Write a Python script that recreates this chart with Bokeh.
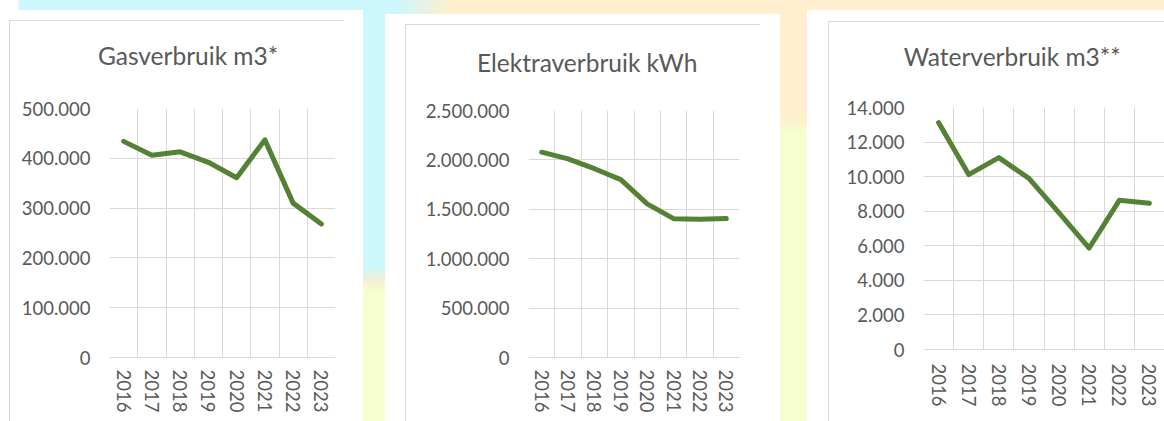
from bokeh.plotting import figure
from bokeh.layouts import row, column
from bokeh.models import Range1d, FixedTicker, Spacer
from bokeh.core.properties import value
from bokeh.embed import file_html
from bokeh.resources import INLINE

# ---- data ----
years = [2016, 2017, 2018, 2019, 2020, 2021, 2022, 2023]
gas_m3 = [434000, 406000, 413000, 392000, 361000, 437000, 310000, 268000]
elektra_kwh = [2078000, 2011000, 1911000, 1800000, 1555000, 1405000, 1400000, 1407000]
water_m3 = [13130, 10120, 11100, 9900, 7900, 5870, 8630, 8460]

titles = ["Gasverbruik m3*", "Elektraverbruik kWh", "Waterverbruik m3**"]
gas_ticks = [0, 100000, 200000, 300000, 400000, 500000]
elektra_ticks = [0, 500000, 1000000, 1500000, 2000000, 2500000]
water_ticks = [0, 2000, 4000, 6000, 8000, 10000, 12000, 14000]

# ---- style ----
GREEN = "#548235"
GRID = "#d9d9d9"
TXT = "#595959"
FONT = "Lato"
CYAN = "#cbf7fd"
PEACH = "#ffefce"
YELLOW = "#f6fecd"
TITLE_H = 80


def nl(v):
    return f"{v:,}".replace(",", ".")


def panel_bg(bx, by, bw, bh):
    return (f"linear-gradient({GRID},{GRID}) {bx}px {by}px / {bw}px 1px no-repeat, "
            f"linear-gradient({GRID},{GRID}) {bx}px {by}px / 1px {bh}px no-repeat, #ffffff")


def make_title(text, width, cx, baseline):
    t = figure(width=width, height=TITLE_H, output_backend="svg",
               toolbar_location=None, tools="", title=None,
               x_axis_type=None, y_axis_type=None, min_border=0,
               frame_align=False,
               x_range=Range1d(0, width), y_range=Range1d(TITLE_H, 0))
    t.border_fill_color = None
    t.background_fill_color = None
    t.outline_line_color = None
    t.text(x=[cx], y=[baseline], text=[text], text_align="center",
           text_baseline="alphabetic", text_font=value(FONT),
           text_font_size=value("24.5px"), text_color=TXT)
    return t


def make_chart(values, ticks, width, height, borders, xstand):
    bl, br, bt, bb = borders
    p = figure(width=width, height=height, output_backend="svg",
               toolbar_location=None, tools="", title=None,
               frame_align=False,
               x_range=Range1d(years[0] - 0.5, years[-1] + 0.5),
               y_range=Range1d(ticks[0], ticks[-1]),
               min_border_left=bl, min_border_right=br,
               min_border_top=bt, min_border_bottom=bb)
    p.border_fill_color = None
    p.background_fill_color = None
    p.outline_line_color = None

    # grid
    p.xgrid.ticker = FixedTicker(ticks=[y - 0.5 for y in years] + [years[-1] + 0.5])
    p.ygrid.ticker = FixedTicker(ticks=ticks)
    for g in (p.xgrid[0], p.ygrid[0]):
        g.grid_line_color = GRID
        g.grid_line_width = 1

    # x axis
    xa = p.xaxis[0]
    xa.ticker = FixedTicker(ticks=years)
    xa.major_label_orientation = "vertical"
    xa.axis_line_color = GRID
    xa.major_tick_line_color = None
    xa.minor_tick_line_color = None
    xa.major_tick_out = 0
    xa.major_tick_in = 0
    xa.major_label_standoff = xstand
    xa.major_label_text_font = FONT
    xa.major_label_text_font_size = "18.5px"
    xa.major_label_text_color = TXT

    # y axis
    ya = p.yaxis[0]
    ya.ticker = FixedTicker(ticks=ticks)
    ya.major_label_overrides = {t: nl(t) for t in ticks}
    ya.axis_line_color = None
    ya.major_tick_line_color = None
    ya.minor_tick_line_color = None
    ya.major_tick_out = 0
    ya.major_tick_in = 0
    ya.major_label_standoff = 19
    ya.major_label_text_font = FONT
    ya.major_label_text_font_size = "18.5px"
    ya.major_label_text_color = TXT

    p.line(years, values, line_color=GREEN, line_width=5,
           line_join="round", line_cap="round")
    return p


def make_panel(title, values, ticks, width, height, top, frame_box, title_pos, border, xstand):
    fl, fr, ft, fb = frame_box  # frame edges relative to panel
    t = make_title(title, width, title_pos[0], title_pos[1])
    c = make_chart(values, ticks, width, height - TITLE_H,
                   (fl, width - fr, ft - TITLE_H, height - fb), xstand)
    return column(t, c, spacing=0, margin=(top, 0, 0, 0),
                  styles={"background": panel_bg(*border)})


col1 = make_panel(titles[0], gas_m3, gas_ticks, 363, 411, 10,
                  (109, 335, 98, 347), (187.5, 44.5), (9, 10, 335, 401), 12)
col2 = make_panel(titles[1], elektra_kwh, elektra_ticks, 395, 407, 14,
                  (143, 354, 96, 343), (201.7, 47.5), (20, 10, 355, 397), 12)
col3 = make_panel(titles[2], water_m3, water_ticks, 357, 411, 10,
                  (116, 357, 97, 339), (204.7, 45.5), (21, 11, 336, 400), 14)

gap1 = Spacer(width=22, height=421, margin=0, styles={
    "background": f"linear-gradient(to bottom, {CYAN} 0px, {CYAN} 266px, #f4efd6 280px, {YELLOW} 292px, {YELLOW} 100%)"})
gap2 = Spacer(width=27, height=421, margin=0, styles={
    "background": f"linear-gradient(to bottom, {PEACH} 0px, {PEACH} 110px, #fbf3cf 123px, {YELLOW} 133px, {YELLOW} 100%)"})

layout = row(col1, gap1, col2, gap2, col3, spacing=0, styles={
    "background": f"linear-gradient(to right, #ffffff 0px, #ffffff 17px, {CYAN} 20px, {CYAN} 398px, {PEACH} 448px, {PEACH} 100%)"})

open("out.html", "w").write(file_html(layout, INLINE))
